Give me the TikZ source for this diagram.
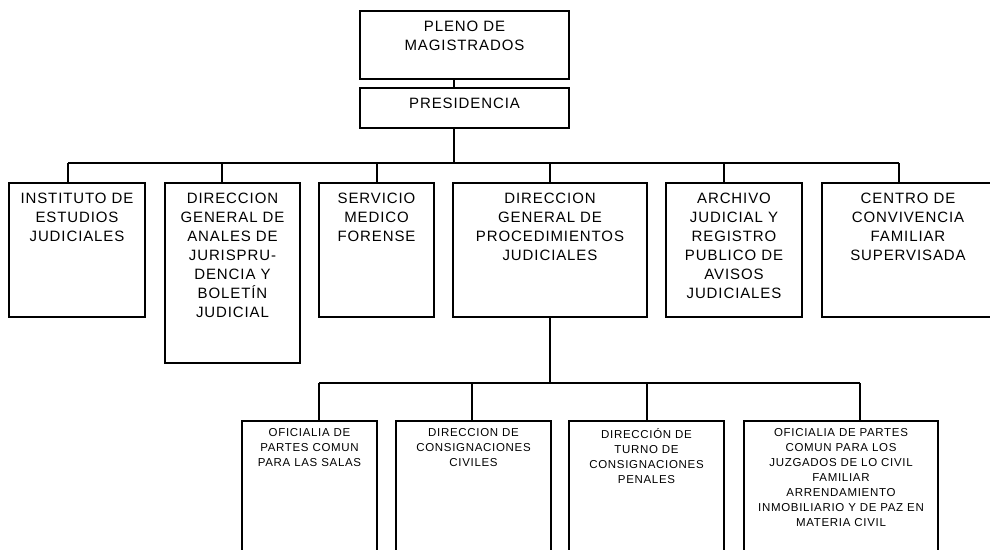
\documentclass[tikz,border=0pt]{standalone}
\usepackage{fontspec}
\setmainfont{Liberation Sans}[LetterSpace=6]
\begin{document}
\begin{tikzpicture}[x=1pt,y=-1pt,
  box/.style={draw, line width=1.2pt, inner sep=0pt, outer sep=0pt},
  big/.style={font=\fontsize{15}{19}\selectfont, align=center, inner sep=0pt, anchor=north},
  small/.style={font=\fontsize{11.5}{15}\selectfont, align=center, inner sep=0pt, anchor=north},
  link/.style={line width=1.2pt}]
\useasboundingbox (0,0) rectangle (990,549);
\clip (0,0) rectangle (990,549);
% top
\node[box, minimum width=209pt, minimum height=68pt] (pleno) at (464.5,45) {};
\node[big] (tpleno) at ([yshift=-9.6pt]pleno.north) {PLENO DE\\MAGISTRADOS};
\node[box, minimum width=209pt, minimum height=40pt] (pres) at (464.5,108) {};
\node[big] (tpres) at ([yshift=-9.6pt]pres.north) {PRESIDENCIA};
% middle row
\node[box, minimum width=136pt, minimum height=134pt] (inst) at (77,250) {};
\node[big] (tinst) at ([yshift=-9.6pt]inst.north) {INSTITUTO DE\\ESTUDIOS\\JUDICIALES};
\node[box, minimum width=135pt, minimum height=180pt] (anales) at (232.5,273) {};
\node[big] (tanales) at ([yshift=-9.6pt]anales.north) {DIRECCION\\GENERAL DE\\ANALES DE\\JURISPRU-\\DENCIA Y\\BOLETÍN\\JUDICIAL};
\node[box, minimum width=115pt, minimum height=134pt] (serv) at (376.5,250) {};
\node[big] (tserv) at ([yshift=-9.6pt]serv.north) {SERVICIO\\MEDICO\\FORENSE};
\node[box, minimum width=194pt, minimum height=134pt] (proc) at (550,250) {};
\node[big] (tproc) at ([yshift=-9.6pt]proc.north) {DIRECCION\\GENERAL DE\\PROCEDIMIENTOS\\JUDICIALES};
\node[box, minimum width=136pt, minimum height=134pt] (arch) at (734,250) {};
\node[big] (tarch) at ([yshift=-9.6pt]arch.north) {ARCHIVO\\JUDICIAL Y\\REGISTRO\\PUBLICO DE\\AVISOS\\JUDICIALES};
\node[box, minimum width=174pt, minimum height=134pt] (centro) at (909,250) {};
\node[big] (tcentro) at ([xshift=-1pt,yshift=-9.6pt]centro.north) {CENTRO DE\\CONVIVENCIA\\FAMILIAR\\SUPERVISADA};
% lower row
\node[box, minimum width=135pt, minimum height=149pt] (ofa) at (309.5,495.5) {};
\node[small] (tofa) at ([yshift=-7pt]ofa.north) {OFICIALIA DE\\PARTES COMUN\\PARA LAS SALAS};
\node[box, minimum width=155pt, minimum height=149pt] (dcc) at (473.5,495.5) {};
\node[small] (tdcc) at ([yshift=-7pt]dcc.north) {DIRECCION DE\\CONSIGNACIONES\\CIVILES};
\node[box, minimum width=155pt, minimum height=149pt] (dtp) at (646.5,495.5) {};
\node[small] (tdtp) at ([yshift=-7pt]dtp.north) {DIRECCIÓN DE\\TURNO DE\\CONSIGNACIONES\\PENALES};
\node[box, minimum width=194pt, minimum height=149pt] (ofj) at (841,495.5) {};
\node[small] (tofj) at ([yshift=-7pt]ofj.north) {OFICIALIA DE PARTES\\COMUN PARA LOS\\JUZGADOS DE LO CIVIL\\FAMILIAR\\ARRENDAMIENTO\\INMOBILIARIO Y DE PAZ EN\\MATERIA CIVIL};
% connectors top
\draw[link] ([xshift=-10.5pt]pleno.south) -- ([xshift=-10.5pt]pres.north);
\coordinate (bus) at (454,163);
\draw[link] ([xshift=-10.5pt]pres.south) -- (bus);
\coordinate (d1) at (68,163);
\coordinate (d2) at (222,163);
\coordinate (d3) at (377,163);
\coordinate (d4) at (550,163);
\coordinate (d5) at (724,163);
\coordinate (d6) at (899,163);
\draw[link] (d1) -- (d6);
\draw[link] (d1) -- (d1 |- inst.north);
\draw[link] (d2) -- (d2 |- anales.north);
\draw[link] (d3) -- (d3 |- serv.north);
\draw[link] (d4) -- (d4 |- proc.north);
\draw[link] (d5) -- (d5 |- arch.north);
\draw[link] (d6) -- (d6 |- centro.north);
% connectors lower
\coordinate (m) at (550,383);
\draw[link] (proc.south) -- (m);
\coordinate (e1) at (319,383);
\coordinate (e2) at (472,383);
\coordinate (e3) at (647,383);
\coordinate (e4) at (860,383);
\draw[link] (e1) -- (e4);
\draw[link] (e1) -- (e1 |- ofa.north);
\draw[link] (e2) -- (e2 |- dcc.north);
\draw[link] (e3) -- (e3 |- dtp.north);
\draw[link] (e4) -- (e4 |- ofj.north);
\end{tikzpicture}
\end{document}
